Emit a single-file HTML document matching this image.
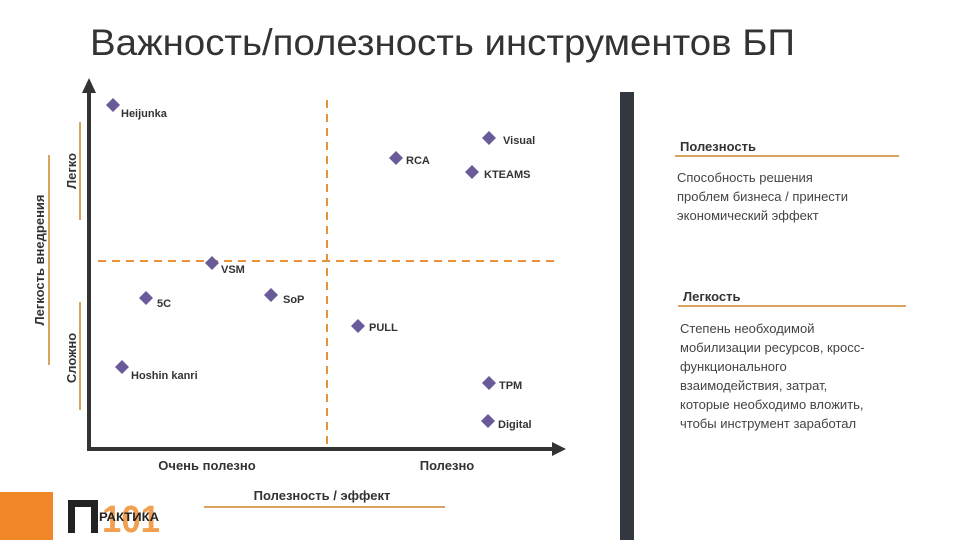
<!DOCTYPE html>
<html><head><meta charset="utf-8"><style>
body{margin:0;width:960px;height:540px;background:#fff;overflow:hidden;font-family:"Liberation Sans","Noto Sans CJK SC",sans-serif}
</style></head><body>
<svg width="960" height="540" xmlns="http://www.w3.org/2000/svg" font-family="'Liberation Sans','Noto Sans CJK SC',sans-serif">
<text x="90" y="55" font-size="37" fill="#333" textLength="705" lengthAdjust="spacingAndGlyphs">Важность/полезность инструментов БП</text>
<!-- axes -->
<line x1="89" y1="92" x2="89" y2="449" stroke="#333" stroke-width="4"/>
<polygon points="89,78 82,93 96,93" fill="#333"/>
<line x1="87" y1="449" x2="555" y2="449" stroke="#333" stroke-width="4"/>
<polygon points="566,449 552,442 552,456" fill="#333"/>
<line x1="98" y1="261" x2="556" y2="261" stroke="#e8923a" stroke-width="2" stroke-dasharray="8,6"/>
<line x1="327" y1="100" x2="327" y2="447" stroke="#e8923a" stroke-width="2" stroke-dasharray="8,6"/>
<!-- y labels -->
<line x1="80" y1="122" x2="80" y2="220" stroke="#d9a45f" stroke-width="2"/>
<line x1="80" y1="302" x2="80" y2="410" stroke="#d9a45f" stroke-width="2"/>
<line x1="49" y1="155" x2="49" y2="365" stroke="#d9a45f" stroke-width="2"/>
<text transform="translate(76,171) rotate(-90)" text-anchor="middle" font-size="13" font-weight="bold" fill="#333">Легко</text>
<text transform="translate(76,358) rotate(-90)" text-anchor="middle" font-size="13" font-weight="bold" fill="#333">Сложно</text>
<text transform="translate(44,260) rotate(-90)" text-anchor="middle" font-size="13" font-weight="bold" fill="#333">Легкость внедрения</text>
<!-- x labels -->
<text x="207" y="470" text-anchor="middle" font-size="13" font-weight="bold" fill="#333">Очень полезно</text>
<text x="447" y="470" text-anchor="middle" font-size="13" font-weight="bold" fill="#333">Полезно</text>
<text x="322" y="500" text-anchor="middle" font-size="13" font-weight="bold" fill="#333">Полезность / эффект</text>
<line x1="204" y1="507" x2="445" y2="507" stroke="#d9a45f" stroke-width="2"/>
<!-- points -->
<g fill="#6a5a9a">
<polygon points="113,98 120,105 113,112 106,105"/>
<polygon points="489,131 496,138 489,145 482,138"/>
<polygon points="396,151 403,158 396,165 389,158"/>
<polygon points="472,165 479,172 472,179 465,172"/>
<polygon points="212,256 219,263 212,270 205,263"/>
<polygon points="146,291 153,298 146,305 139,298"/>
<polygon points="271,288 278,295 271,302 264,295"/>
<polygon points="358,319 365,326 358,333 351,326"/>
<polygon points="122,360 129,367 122,374 115,367"/>
<polygon points="489,376 496,383 489,390 482,383"/>
<polygon points="488,414 495,421 488,428 481,421"/>
</g>
<g font-size="11" font-weight="bold" fill="#333">
<text x="121" y="117">Heijunka</text>
<text x="503" y="144">Visual</text>
<text x="406" y="164">RCA</text>
<text x="484" y="178">KTEAMS</text>
<text x="221" y="273">VSM</text>
<text x="157" y="307">5C</text>
<text x="283" y="303">SoP</text>
<text x="369" y="331">PULL</text>
<text x="131" y="379">Hoshin kanri</text>
<text x="499" y="389">TPM</text>
<text x="498" y="428">Digital</text>
</g>
<!-- dark bar -->
<rect x="620" y="92" width="14" height="448" fill="#333840"/>
<!-- right text -->
<text x="680" y="151" font-size="13" font-weight="bold" fill="#333">Полезность</text>
<line x1="675" y1="156" x2="899" y2="156" stroke="#d9a45f" stroke-width="2"/>
<g font-size="13" fill="#444">
<text x="677" y="182">Способность решения</text>
<text x="677" y="201">проблем бизнеса / принести</text>
<text x="677" y="220">экономический эффект</text>
</g>
<text x="683" y="301" font-size="13" font-weight="bold" fill="#333">Легкость</text>
<line x1="678" y1="306" x2="906" y2="306" stroke="#d9a45f" stroke-width="2"/>
<g font-size="13" fill="#444">
<text x="680" y="333">Степень необходимой</text>
<text x="680" y="352">мобилизации ресурсов, кросс-</text>
<text x="680" y="371">функционального</text>
<text x="680" y="390">взаимодействия, затрат,</text>
<text x="680" y="409">которые необходимо вложить,</text>
<text x="680" y="428">чтобы инструмент заработал</text>
</g>
<!-- logo -->
<rect x="0" y="492" width="53" height="48" fill="#f0882a"/>
<text x="102" y="532" font-size="38" font-weight="bold" fill="#f0a050" textLength="58" lengthAdjust="spacingAndGlyphs">101</text>
<path d="M68,500 H98 V533 H91 V507 H75 V533 H68 Z" fill="#222"/>
<text x="99" y="521" font-size="12" font-weight="bold" fill="#222" textLength="60" lengthAdjust="spacingAndGlyphs">РАКТИКА</text>
</svg>
</body></html>
